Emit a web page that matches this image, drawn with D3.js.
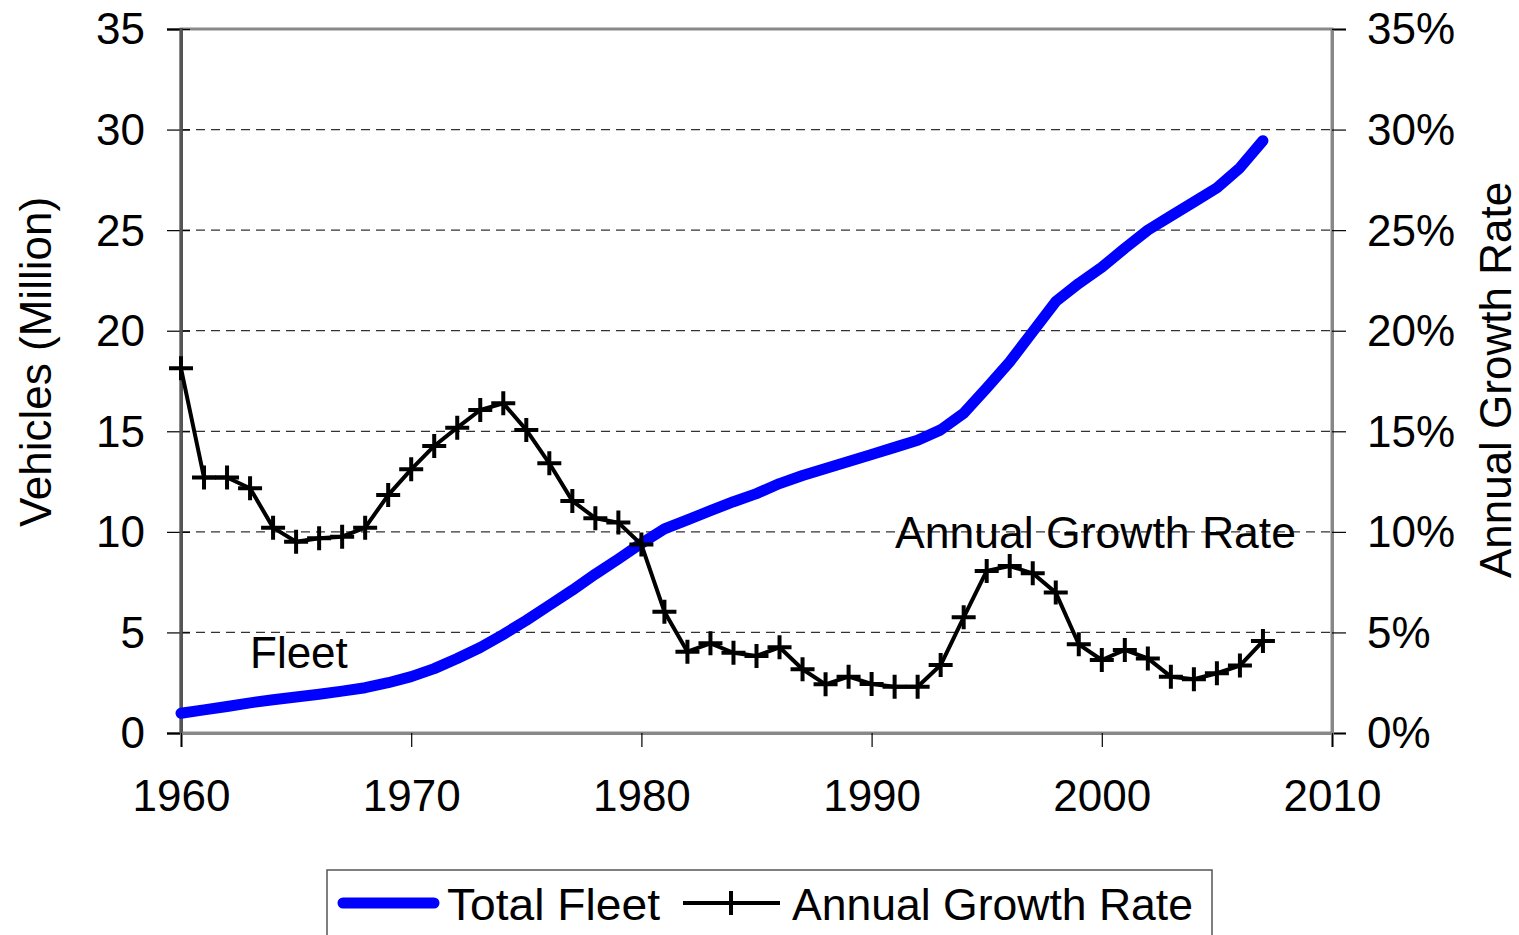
<!DOCTYPE html>
<html>
<head>
<meta charset="utf-8">
<script src="https://cdn.jsdelivr.net/npm/d3@7/dist/d3.min.js"></script>
<style>
  html, body { margin: 0; padding: 0; background: #fff; }
  svg { display: block; font-family: "Liberation Sans", Arial, sans-serif; }
</style>
</head>
<body>
<svg id="chart" width="1519" height="935"></svg>
<script>
const years = d3.range(1960, 2008);
const fleet = [
  0.98, 1.15, 1.32, 1.50, 1.65, 1.79, 1.93, 2.08, 2.25, 2.50,
  2.80, 3.20, 3.70, 4.25, 4.90, 5.60, 6.35, 7.10, 7.90, 8.65,
  9.43, 10.15, 10.60, 11.05, 11.50, 11.90, 12.40, 12.80, 13.15, 13.50,
  13.85, 14.20, 14.55, 15.07, 15.90, 17.15, 18.45, 19.95, 21.45, 22.35,
  23.15, 24.10, 25.00, 25.70, 26.40, 27.10, 28.10, 29.45
];
const growth = [
  18.13, 12.70, 12.70, 12.17, 10.21, 9.51, 9.68, 9.76, 10.21, 11.83,
  13.11, 14.27, 15.18, 16.06, 16.39, 15.07, 13.41, 11.54, 10.68, 10.46,
  9.37, 6.03, 4.04, 4.46, 3.99, 3.83, 4.26, 3.17, 2.42, 2.80,
  2.44, 2.30, 2.30, 3.38, 5.75, 8.06, 8.30, 7.94, 6.98, 4.41,
  3.63, 4.13, 3.71, 2.80, 2.67, 2.97, 3.35, 4.57
];
const xTicks = [1960, 1970, 1980, 1990, 2000, 2010];
const leftTicks = [0, 5, 10, 15, 20, 25, 30, 35];
const rightTicks = [0, 0.05, 0.10, 0.15, 0.20, 0.25, 0.30, 0.35];
const labels = { left: "Vehicles (Million)", right: "Annual Growth Rate", fleetNote: "Fleet", growthNote: "Annual Growth Rate" };
const legendItems = ["Total Fleet", "Annual Growth Rate"];

const svg = d3.select("#chart");
const L = 181, R = 1332, T = 29, B = 733;
const FS = 44;

const x = d3.scaleLinear().domain([1960, 2010]).range([L, R]);
const yL = d3.scaleLinear().domain([0, 35]).range([B, T]);
const yR = d3.scaleLinear().domain([0, 0.35]).range([B, T]);

// gridlines
svg.append("g").selectAll("line").data(leftTicks.filter(d => d > 0 && d < 35)).join("line")
  .attr("x1", L).attr("x2", R)
  .attr("y1", d => yL(d)).attr("y2", d => yL(d))
  .attr("stroke", "#333").attr("stroke-width", 1.2).attr("stroke-dasharray", "9,6");

// plot border
svg.append("rect").attr("x", L).attr("y", T).attr("width", R - L).attr("height", B - T)
  .attr("fill", "none").attr("stroke", "#888").attr("stroke-width", 3);

// left axis
const gL = svg.append("g").attr("transform", `translate(${L},0)`)
  .call(d3.axisLeft(yL).tickValues(leftTicks).tickSize(14).tickPadding(22).tickFormat(d3.format("d")));
gL.select(".domain").attr("stroke", "#555").attr("stroke-width", 3);
gL.selectAll(".tick line").attr("stroke", "#000").attr("stroke-width", 1.2).attr("x2", -14);
gL.selectAll(".tick").append("line").attr("x1", 0).attr("x2", 9).attr("stroke", "#000").attr("stroke-width", 1.2);
gL.selectAll("text").attr("font-size", FS).attr("font-family", "Liberation Sans, Arial, sans-serif").attr("fill", "#000").attr("dy", "0.34em");

// right axis
const gR = svg.append("g").attr("transform", `translate(${R},0)`)
  .call(d3.axisRight(yR).tickValues(rightTicks).tickSize(14).tickPadding(21).tickFormat(d3.format(".0%")));
gR.select(".domain").attr("stroke", "#888").attr("stroke-width", 3);
gR.selectAll(".tick line").attr("stroke", "#000").attr("stroke-width", 1.2);
gR.selectAll("text").attr("font-size", FS).attr("font-family", "Liberation Sans, Arial, sans-serif").attr("fill", "#000").attr("dy", "0.34em");

// bottom axis
const gB = svg.append("g").attr("transform", `translate(0,${B})`)
  .call(d3.axisBottom(x).tickValues(xTicks).tickSize(14).tickPadding(33).tickFormat(d3.format("d")));
gB.select(".domain").attr("stroke", "#888").attr("stroke-width", 3);
gB.selectAll(".tick line").attr("stroke", "#000").attr("stroke-width", 1.2);
gB.selectAll("text").attr("font-size", FS).attr("font-family", "Liberation Sans, Arial, sans-serif").attr("fill", "#000").attr("dy", "0.71em");

// redraw left spine darker on top
svg.append("line").attr("x1", L).attr("x2", L).attr("y1", T).attr("y2", B)
  .attr("stroke", "#555").attr("stroke-width", 3);

// fleet line
svg.append("path").datum(years.map((yr, i) => [yr, fleet[i]]))
  .attr("fill", "none").attr("stroke", "#0000ff").attr("stroke-width", 11)
  .attr("stroke-linecap", "round").attr("stroke-linejoin", "round")
  .attr("d", d3.line().x(d => x(d[0])).y(d => yL(d[1])));

// growth line
const gData = years.map((yr, i) => [yr, growth[i] / 100]);
svg.append("path").datum(gData)
  .attr("fill", "none").attr("stroke", "#000").attr("stroke-width", 4)
  .attr("stroke-linejoin", "round")
  .attr("d", d3.line().x(d => x(d[0])).y(d => yR(d[1])));
const ms = 12;
svg.append("g").selectAll("path").data(gData).join("path")
  .attr("d", d => `M${x(d[0]) - ms},${yR(d[1])}H${x(d[0]) + ms}M${x(d[0])},${yR(d[1]) - ms}V${yR(d[1]) + ms}`)
  .attr("stroke", "#000").attr("stroke-width", 4).attr("fill", "none");

// axis titles
svg.append("text").attr("transform", "translate(51,362) rotate(-90)")
  .attr("text-anchor", "middle").attr("font-size", FS).text(labels.left);
svg.append("text").attr("transform", "translate(1511,380) rotate(-90)")
  .attr("text-anchor", "middle").attr("font-size", FS).text(labels.right);

// annotations
svg.append("text").attr("x", 250).attr("y", 668).attr("font-size", FS).text(labels.fleetNote);
svg.append("text").attr("x", 895).attr("y", 548).attr("font-size", FS)
  .attr("textLength", 401).attr("lengthAdjust", "spacingAndGlyphs").text(labels.growthNote);

// legend
const lg = svg.append("g");
lg.append("rect").attr("x", 327).attr("y", 870).attr("width", 885).attr("height", 80)
  .attr("fill", "#fff").attr("stroke", "#555").attr("stroke-width", 1.5);
lg.append("line").attr("x1", 343).attr("x2", 434).attr("y1", 903).attr("y2", 903)
  .attr("stroke", "#0000ff").attr("stroke-width", 11).attr("stroke-linecap", "round");
lg.append("text").attr("x", 447).attr("y", 920).attr("font-size", FS)
  .attr("textLength", 213).attr("lengthAdjust", "spacingAndGlyphs").text(legendItems[0]);
lg.append("line").attr("x1", 683).attr("x2", 780).attr("y1", 903).attr("y2", 903)
  .attr("stroke", "#000").attr("stroke-width", 4);
lg.append("path").attr("d", `M719,903H743M731,891V915`).attr("stroke", "#000").attr("stroke-width", 4);
lg.append("text").attr("x", 792).attr("y", 920).attr("font-size", FS)
  .attr("textLength", 401).attr("lengthAdjust", "spacingAndGlyphs").text(legendItems[1]);
</script>
</body>
</html>
